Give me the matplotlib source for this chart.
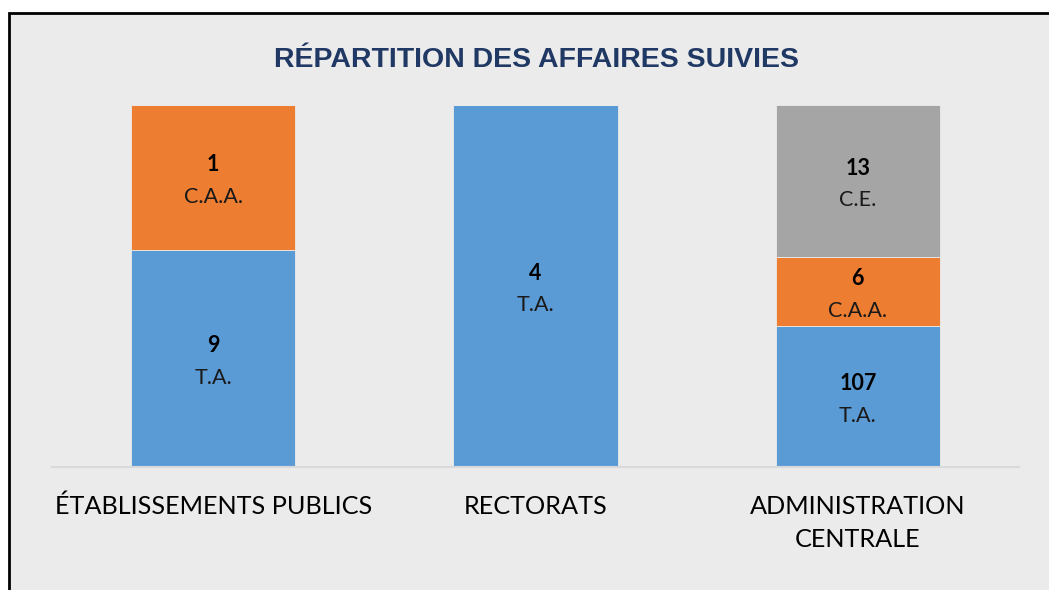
import matplotlib.pyplot as plt
from matplotlib.patches import Rectangle
import numpy as np

categories = ['ÉTABLISSEMENTS PUBLICS', 'RECTORATS', 'ADMINISTRATION\nCENTRALE']
series = ['T.A.', 'C.A.A.', 'C.E.']
colors = ['#5b9bd5', '#ed7d31', '#a5a5a5']

# affaires counts shown as labels
counts = {
    'T.A.': [9, 4, 107],
    'C.A.A.': [1, 0, 6],
    'C.E.': [0, 0, 13],
}
# segment heights (%) as drawn in the picture
shares = {
    'T.A.': [60, 100, 39],
    'C.A.A.': [40, 0, 19],
    'C.E.': [0, 0, 42],
}

W, H = 1049, 590
fig = plt.figure(figsize=(W / 100, H / 100), dpi=100, facecolor='white')
# gray panel with black frame (cut off on right/bottom)
fig.patches.append(Rectangle((9 / W, -0.1), 1.2, (H - 13) / H + 0.1,
                             transform=fig.transFigure, facecolor='#ebebeb',
                             edgecolor='black', linewidth=2, zorder=-10))

ax = fig.add_axes([52 / W, (H - 467) / H, (1019 - 52) / W, (467 - 105) / H])
ax.set_facecolor('none')

x = np.arange(len(categories))
bottom = np.zeros(len(categories))
for s, c in zip(series, colors):
    h = np.array(shares[s], dtype=float)
    ax.bar(x, h, 0.51, bottom=bottom, color=c, edgecolor='#ebebeb', linewidth=0.6)
    for i in range(len(categories)):
        if h[i] > 0:
            mid = bottom[i] + h[i] / 2
            ax.annotate(str(counts[s][i]), (x[i], mid), xytext=(0, 9), textcoords='offset points',
                        ha='center', va='center', fontsize=15.5, fontweight='bold',
                        family='Lato', color='black')
            ax.annotate(s, (x[i], mid), xytext=(0, -14), textcoords='offset points',
                        ha='center', va='center', fontsize=15.5, family='Lato', color='#1a1a1a')
    bottom += h

ax.set_xlim(-0.5, 2.5)
ax.set_ylim(0, 100)
ax.set_yticks([])
ax.set_xticks(x)
ax.set_xticklabels(categories, fontsize=18.2, family='Lato', linespacing=1.55)
ax.tick_params(axis='x', length=0, pad=20)
for side in ['top', 'right', 'left']:
    ax.spines[side].set_visible(False)
ax.spines['bottom'].set_color('#d9d9d9')
ax.spines['bottom'].set_linewidth(1.5)

fig.text(536 / W, 1 - 60 / H, 'RÉPARTITION DES AFFAIRES SUIVIES', ha='center', va='center',
         fontsize=20.5, fontweight='bold', family='Liberation Sans', color='#203864')

fig.savefig('out.png', dpi=100, facecolor='white')
